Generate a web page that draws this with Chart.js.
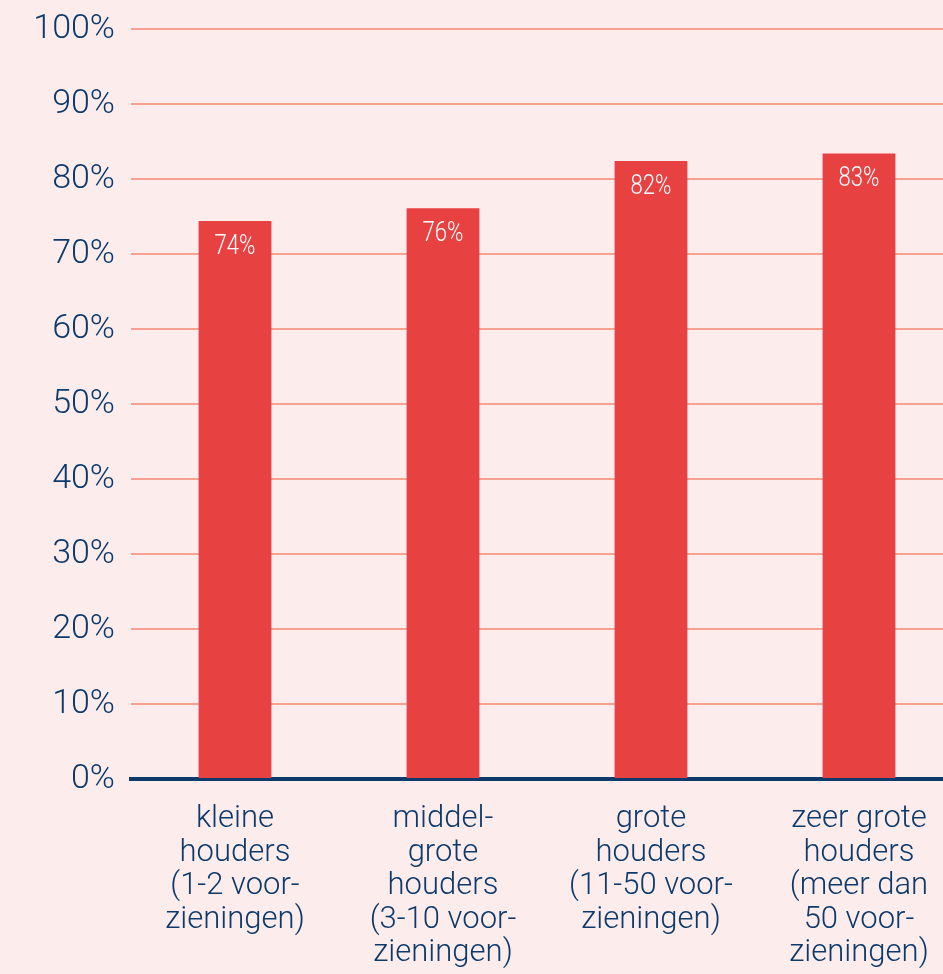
<!DOCTYPE html>
<html>
<head>
<meta charset="utf-8">
<script src="https://cdn.jsdelivr.net/npm/chart.js@4"></script>
<style>
  html, body { margin: 0; padding: 0; background: #fdecec; overflow: hidden; }
  #wrap { width: 943px; height: 974px; overflow: hidden; }
</style>
</head>
<body>
<div id="wrap"><canvas id="chart" width="963" height="974"></canvas></div>
<script>
/* ----------------------------- */
/* DATA                          */
/* ----------------------------- */
const categories = [
  ["kleine", "houders", "(1-2 voor-", "zieningen)"],
  ["middel-", "grote", "houders", "(3-10 voor-", "zieningen)"],
  ["grote", "houders", "(11-50 voor-", "zieningen)"],
  ["zeer grote", "houders", "(meer dan", "50 voor-", "zieningen)"],
];
const shares = [74.4, 76.1, 82.4, 83.4];
const yTicks = [0, 10, 20, 30, 40, 50, 60, 70, 80, 90, 100];

/* ----------------------------- */
/* STYLE                         */
/* ----------------------------- */
const navy = "#0d3a6b";
const barRed = "#e84142";
const gridSalmon = "#f6a08f";

// white value labels near the top of each bar, slightly condensed
const barLabels = {
  id: "barLabels",
  afterDatasetsDraw(chart) {
    const { ctx } = chart;
    const meta = chart.getDatasetMeta(0);
    ctx.save();
    ctx.fillStyle = "#ffffff";
    ctx.font = '300 27px Roboto, sans-serif';
    ctx.textAlign = "center";
    ctx.textBaseline = "middle";
    meta.data.forEach((bar, i) => {
      ctx.save();
      ctx.translate(bar.x, bar.y + 26);
      ctx.scale(0.82, 1);
      ctx.fillText(Math.round(shares[i]) + "%", 0, 0);
      ctx.restore();
    });
    ctx.restore();
  },
};

new Chart(document.getElementById("chart"), {
  type: "bar",
  data: {
    labels: categories,
    datasets: [
      {
        data: shares,
        backgroundColor: barRed,
        barPercentage: 0.35,
        categoryPercentage: 1,
      },
    ],
  },
  options: {
    responsive: false,
    animation: false,
    devicePixelRatio: 1,
    layout: { padding: 0 },
    plugins: { legend: { display: false }, tooltip: { enabled: false } },
    scales: {
      y: {
        min: 0,
        max: 100,
        afterFit: (scale) => {
          scale.width = 131;
          scale.paddingTop = 29;
        },
        afterBuildTicks: (scale) => { scale.ticks = yTicks.map((v) => ({ value: v })); },
        border: { display: false },
        grid: { color: gridSalmon, lineWidth: 2, drawTicks: false },
        ticks: {
          color: navy,
          padding: 16,
          font: { family: "Roboto", size: 34, weight: 300 },
          callback: (v) => v + "%",
        },
      },
      x: {
        afterFit: (scale) => { scale.height = 195; },
        border: { color: navy, width: 4 },
        grid: { display: false, drawTicks: false },
        ticks: {
          color: navy,
          padding: 24,
          maxRotation: 0,
          autoSkip: false,
          font: { family: "Roboto", size: 31, weight: 300, lineHeight: 1.08 },
        },
      },
    },
  },
  plugins: [barLabels],
});
</script>
</body>
</html>
